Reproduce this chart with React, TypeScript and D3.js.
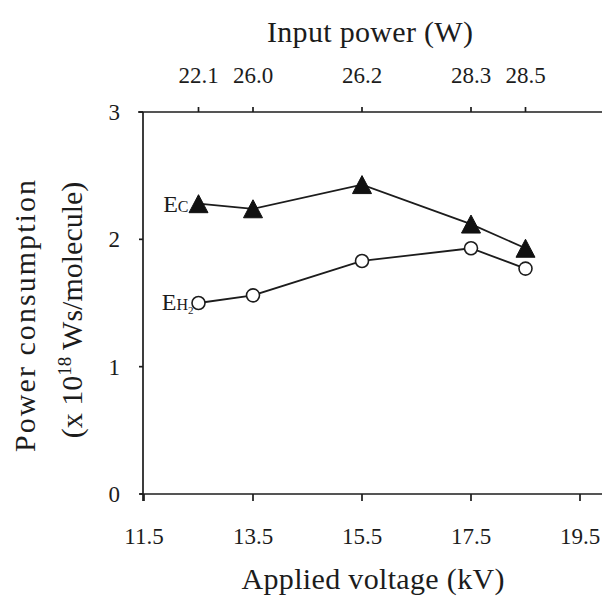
import React from "react";
import * as d3 from "d3";

const voltage = [12.5, 13.5, 15.5, 17.5, 18.5];
const inputPower = ["22.1", "26.0", "26.2", "28.3", "28.5"];
const ecValues = [2.28, 2.24, 2.43, 2.12, 1.93];
const eh2Values = [1.5, 1.56, 1.83, 1.93, 1.77];
const xTicks = [11.5, 13.5, 15.5, 17.5, 19.5];
const yTicks = [0, 1, 2, 3];

const W = 605;
const H = 598;
const FONT = "'Liberation Serif', 'Times New Roman', Times, serif";
const INK = "#1c1c1c";

export default function App() {
  const x = d3.scaleLinear().domain([11.5, 19.5]).range([144, 580]);
  const y = d3.scaleLinear().domain([0, 3]).range([494, 112]);
  const axisX0 = 143;
  const axisXEnd = 602;

  const line = d3
    .line<number>()
    .x((_, i) => x(voltage[i]))
    .y((d) => y(d));

  const triPath = (cx: number, cy: number) => {
    const w = 19;
    const h = 18;
    return `M${cx},${cy - h / 2}L${cx + w / 2},${cy + h / 2}L${cx - w / 2},${cy + h / 2}Z`;
  };

  const txt = { fontFamily: FONT, fill: INK } as React.CSSProperties;

  return (
    <div style={{ position: "absolute", left: 0, top: 0 }}>
      <svg width={W} height={H} style={{ display: "block", background: "#fff", fontFamily: FONT }}>
        <g style={txt}>
          {/* Top title */}
          <text x={370} y={42} style={{ fontSize: 30 }} textAnchor="middle" textLength={206} lengthAdjust="spacing">
            Input power (W)
          </text>
          {/* Bottom title */}
          <text x={373} y={589} style={{ fontSize: 30 }} textAnchor="middle" textLength={263} lengthAdjust="spacing">
            Applied voltage (kV)
          </text>
          {/* Y title */}
          <text
            transform={`translate(35,316) rotate(-90)`}
            style={{ fontSize: 30 }}
            textAnchor="middle"
            textLength={272}
            lengthAdjust="spacing"
          >
            Power consumption
          </text>
          <text transform={`translate(82,310) rotate(-90)`} style={{ fontSize: 30 }} textAnchor="middle">
            (x 10<tspan style={{ fontSize: 19 }} dy={-11}>18</tspan>
            <tspan dy={11}> Ws/molecule)</tspan>
          </text>
        </g>

        {/* Axes lines */}
        <g stroke={INK} strokeWidth={1.7} fill="none">
          <line x1={axisX0 - 5} x2={axisXEnd} y1={y(3)} y2={y(3)} />
          <line x1={axisX0 - 3} x2={axisXEnd} y1={y(0)} y2={y(0)} />
          <line x1={axisX0} x2={axisX0} y1={y(3)} y2={y(0) + 7} />
          {yTicks.map((t) => (
            <line key={"yt" + t} x1={axisX0 - 4} x2={axisX0} y1={y(t)} y2={y(t)} />
          ))}
          {xTicks.map((t) => (
            <line key={"xt" + t} x1={x(t)} x2={x(t)} y1={y(0)} y2={y(0) + 7} />
          ))}
          {voltage.map((v) => (
            <line key={"tt" + v} x1={x(v)} x2={x(v)} y1={y(3)} y2={y(3) - 5} />
          ))}
        </g>

        {/* Tick labels */}
        <g style={{ ...txt, fontSize: 23 }}>
          {yTicks.map((t) => (
            <text key={"yl" + t} x={120} y={y(t)} dy="0.35em" textAnchor="end">
              {t}
            </text>
          ))}
          {xTicks.map((t) => (
            <text key={"xl" + t} x={x(t)} y={544} textAnchor="middle">
              {t.toFixed(1)}
            </text>
          ))}
          {voltage.map((v, i) => (
            <text key={"tl" + v} x={x(v)} y={83} textAnchor="middle">
              {inputPower[i]}
            </text>
          ))}
        </g>

        {/* Series lines */}
        <path d={line(ecValues) || ""} fill="none" stroke={INK} strokeWidth={1.8} />
        <path d={line(eh2Values) || ""} fill="none" stroke={INK} strokeWidth={1.8} />

        {/* Markers */}
        {ecValues.map((v, i) => (
          <path key={"ec" + i} d={triPath(x(voltage[i]), y(v))} fill="#111" stroke="#111" strokeWidth={1} />
        ))}
        {eh2Values.map((v, i) => (
          <circle key={"eh" + i} cx={x(voltage[i])} cy={y(v)} r={6.5} fill="#fff" stroke={INK} strokeWidth={1.6} />
        ))}

        {/* Series labels */}
        <g style={txt}>
          <text x={x(voltage[0]) - 10} y={y(ecValues[0]) + 8} textAnchor="end">
            <tspan style={{ fontSize: 24 }}>E</tspan>
            <tspan style={{ fontSize: 16 }}>C</tspan>
          </text>
          <text x={x(voltage[0]) - 5} y={y(eh2Values[0]) + 7} textAnchor="end">
            <tspan style={{ fontSize: 24 }}>E</tspan>
            <tspan style={{ fontSize: 16 }}>H</tspan>
            <tspan style={{ fontSize: 11 }} dy={4}>2</tspan>
          </text>
        </g>
      </svg>
    </div>
  );
}
